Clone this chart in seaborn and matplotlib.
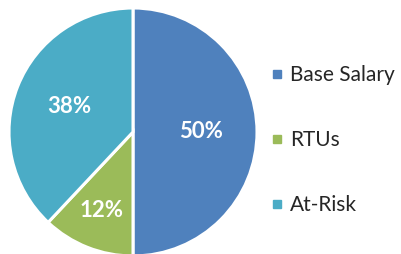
import numpy as np
import matplotlib
matplotlib.use("Agg")
import matplotlib.pyplot as plt
from matplotlib.lines import Line2D
import seaborn as sns

categories = ["Base Salary", "RTUs", "At-Risk"]
values = [50, 12, 38]
pct_labels = ["50%", "12%", "38%"]
label_radius = [0.55, 0.68, 0.55]
colors = ["#4F81BD", "#9BBB59", "#4BACC6"]

sns.set_theme(style="white")
plt.rcParams['font.family'] = ['Lato', 'DejaVu Sans']
palette = sns.color_palette(colors)

W, H = 401, 254
fig = plt.figure(figsize=(W / 100, H / 100), dpi=100)
cx, cy, r = 133, 132, 124
ax = fig.add_axes([(cx - r) / W, (H - cy - r) / H, 2 * r / W, 2 * r / H])
wedges, _ = ax.pie(values, colors=palette, startangle=90, counterclock=False,
                   radius=1, wedgeprops=dict(edgecolor="white", linewidth=2.2))
for w in wedges:
    w.set_clip_on(False)
ax.set_xlim(-1, 1)
ax.set_ylim(-1, 1)
ax.set_aspect("equal")
ax.axis("off")

for w, lab, rad in zip(wedges, pct_labels, label_radius):
    ang = np.deg2rad((w.theta1 + w.theta2) / 2)
    ax.text(rad * np.cos(ang), rad * np.sin(ang), lab, color="white",
            fontsize=16, fontweight="bold", ha="center", va="center")

handles = [Line2D([], [], marker="s", linestyle="", markersize=6,
                  markerfacecolor=c, markeredgecolor=c) for c in palette]
fig.legend(handles, categories, loc="center left", bbox_to_anchor=(259 / W, 1 - 140 / H),
           frameon=False, fontsize=15, labelspacing=2.15, handletextpad=0.2,
           handlelength=0.9, borderaxespad=0)

fig.savefig("out.png", dpi=100)
